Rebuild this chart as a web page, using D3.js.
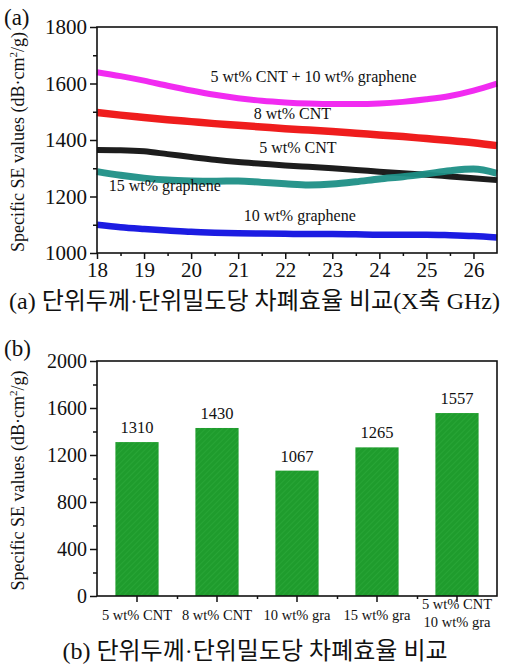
<!DOCTYPE html>
<html>
<head>
<meta charset="utf-8">
<script src="https://cdn.jsdelivr.net/npm/d3@7"></script>
<style>
  html, body { margin: 0; padding: 0; background: #fff; }
  svg { display: block; }
  text { font-family: "Liberation Serif", "Noto Sans CJK KR", serif; fill: #111; }
</style>
</head>
<body>
<svg id="chart" width="508" height="665"></svg>
<script>
// ---- Panel (a): specific SE vs frequency ----
const freq = [18, 18.5, 19, 19.5, 20, 20.5, 21, 21.5, 22, 22.5, 23, 23.5, 24, 24.5, 25, 25.5, 26, 26.5];
const seriesNames = ["5 wt% CNT + 10 wt% graphene", "8 wt% CNT", "5 wt% CNT", "15 wt% graphene", "10 wt% graphene"];
const seriesColors = ["#f020f0", "#ee1111", "#111111", "#1e8f86", "#1010e0"];
const hybridSE   = [1640, 1626, 1610, 1592, 1575, 1560, 1548, 1539, 1533, 1529, 1527, 1527, 1529, 1535, 1544, 1556, 1575, 1600];
const cnt8SE     = [1497, 1488, 1480, 1472, 1465, 1458, 1452, 1446, 1440, 1435, 1430, 1424, 1418, 1412, 1405, 1398, 1390, 1380];
const cnt5SE     = [1365, 1364, 1360, 1350, 1340, 1330, 1322, 1316, 1310, 1305, 1300, 1294, 1288, 1282, 1277, 1271, 1265, 1258];
const gra15SE    = [1288, 1275, 1265, 1258, 1255, 1254, 1255, 1250, 1245, 1241, 1244, 1252, 1262, 1270, 1280, 1291, 1297, 1282];
const gra10SE    = [1100, 1091, 1085, 1080, 1075, 1072, 1070, 1069, 1068, 1067, 1067, 1066, 1065, 1065, 1065, 1063, 1060, 1055];
const seriesValues = [hybridSE, cnt8SE, cnt5SE, gra15SE, gra10SE];
const seriesWidths = [6, 7.5, 6, 7, 6.5];
// label anchor points (frequency, value) for the in-plot annotations
const labelFreq = [22.6, 22.15, 22.27, 19.44, 22.31];
const labelVal  = [1604, 1474, 1354, 1220, 1113];
const xTicksA = [18, 19, 20, 21, 22, 23, 24, 25, 26];
const yTicksA = [1000, 1200, 1400, 1600, 1800];

// ---- Panel (b): average specific SE per sample ----
const samples = ["5 wt% CNT", "8 wt% CNT", "10 wt% gra", "15 wt% gra", "5 wt% CNT|10 wt% gra"];
const avgSE = [1310, 1430, 1067, 1265, 1557];
const yTicksB = [0, 400, 800, 1200, 1600, 2000];

const captionA = "(a) 단위두께·단위밀도당 차폐효율 비교(X축 GHz)";
const captionB = "(b) 단위두께·단위밀도당 차폐효율 비교";

const svg = d3.select("#chart");

// hatch pattern for bars
const defs = svg.append("defs");
const pat = defs.append("pattern").attr("id", "hatch").attr("patternUnits", "userSpaceOnUse")
  .attr("width", 4).attr("height", 4).attr("patternTransform", "rotate(45)");
pat.append("rect").attr("width", 4).attr("height", 4).attr("fill", "#1f9c2d");
pat.append("line").attr("x1", 0).attr("y1", 0).attr("x2", 0).attr("y2", 4)
  .attr("stroke", "#2aa838").attr("stroke-width", 1.5);

function frame(g, x0, x1, y0, y1) {
  g.append("rect").attr("x", x0).attr("y", y0).attr("width", x1 - x0).attr("height", y1 - y0)
    .attr("fill", "none").attr("stroke", "#111").attr("stroke-width", 1.6);
}

function yTitleText(g, cx, cy) {
  const t = g.append("text").attr("transform", `translate(${cx},${cy}) rotate(-90)`)
    .attr("text-anchor", "middle").attr("font-size", 18);
  t.append("tspan").text("Specific SE values (dB·cm");
  t.append("tspan").text("2").attr("font-size", 11).attr("dy", -7);
  t.append("tspan").text("/g)").attr("dy", 7);
}

// ---------------- Panel (a) ----------------
const A = { l: 97, r: 497, t: 27, b: 253 };
const xA = d3.scaleLinear().domain([18, 26.5]).range([A.l, A.r]);
const yA = d3.scaleLinear().domain([1000, 1800]).range([A.b, A.t]);
const gA = svg.append("g");

const lineGen = d3.line().x((d, i) => xA(freq[i])).y(d => yA(d)).curve(d3.curveMonotoneX);
seriesValues.forEach((vals, k) => {
  gA.append("path").attr("d", lineGen(vals)).attr("fill", "none")
    .attr("stroke", seriesColors[k]).attr("stroke-width", seriesWidths[k])
    .attr("stroke-linecap", "butt").attr("opacity", 0.95);
});

seriesNames.forEach((name, k) => {
  gA.append("text").attr("x", xA(labelFreq[k])).attr("y", yA(labelVal[k]))
    .attr("text-anchor", "middle").attr("font-size", 16).text(name);
});

// axes (a)
const axA_x = d3.axisBottom(xA).tickValues(xTicksA).tickSize(6).tickPadding(3).tickFormat(d3.format("d"));
const axA_y = d3.axisLeft(yA).tickValues(yTicksA).tickSize(7).tickPadding(3).tickFormat(d3.format("d"));
const gxA = gA.append("g").attr("transform", `translate(0,${A.b})`).call(axA_x);
const gyA = gA.append("g").attr("transform", `translate(${A.l},0)`).call(axA_y);
// minor ticks
gA.append("g").attr("transform", `translate(0,${A.b})`)
  .call(d3.axisBottom(xA).tickValues(d3.range(18.5, 26.5, 1)).tickSize(3).tickFormat(""));
gA.append("g").attr("transform", `translate(${A.l},0)`)
  .call(d3.axisLeft(yA).tickValues([1100, 1300, 1500, 1700]).tickSize(4).tickFormat(""));
[gxA, gyA].forEach(g => { g.selectAll("text").attr("font-size", 21).attr("font-family", "Liberation Serif").attr("fill", "#111"); });
gA.selectAll(".domain").remove();
gA.selectAll(".tick line").attr("stroke", "#111").attr("stroke-width", 1.5);
frame(gA, A.l, A.r, A.t, A.b);
yTitleText(gA, 24, (A.t + A.b) / 2 + 2);
gA.append("text").attr("x", 4).attr("y", 25).attr("font-size", 23).text("(a)");

svg.append("text").attr("x", 9).attr("y", 309)
  .attr("font-size", 24).attr("textLength", 491).attr("lengthAdjust", "spacingAndGlyphs").text(captionA);

// ---------------- Panel (b) ----------------
const B = { l: 97, r: 497, t: 361, b: 596 };
const xB = d3.scaleBand().domain(samples).range([B.l, B.r]).paddingInner(0.46).paddingOuter(0.23);
const yB = d3.scaleLinear().domain([0, 2000]).range([B.b, B.t]);
const gB = svg.append("g");

gB.selectAll("rect.bar").data(samples).join("rect").attr("class", "bar")
  .attr("x", d => xB(d)).attr("width", xB.bandwidth())
  .attr("y", (d, i) => yB(avgSE[i])).attr("height", (d, i) => B.b - yB(avgSE[i]))
  .attr("fill", "url(#hatch)");

gB.selectAll("text.val").data(samples).join("text").attr("class", "val")
  .attr("x", d => xB(d) + xB.bandwidth() / 2).attr("y", (d, i) => yB(avgSE[i]) - 9)
  .attr("text-anchor", "middle").attr("font-size", 16.5).text((d, i) => avgSE[i]);

gB.append("g").attr("transform", `translate(0,${B.b})`)
  .call(d3.axisBottom(xB).tickSize(6).tickFormat(""));
// minor ticks between categories
const step = xB.step();
gB.append("g").attr("transform", `translate(0,${B.b})`)
  .call(d3.axisBottom(d3.scaleLinear().domain([0, 1]).range([0, 1]))
    .tickValues(samples.slice(1).map(d => xB(d) + xB.bandwidth() / 2 - step / 2)).tickSize(3).tickFormat(""));
const gyB = gB.append("g").attr("transform", `translate(${B.l},0)`)
  .call(d3.axisLeft(yB).tickValues(yTicksB).tickSize(7).tickPadding(3).tickFormat(d3.format("d")));
gB.append("g").attr("transform", `translate(${B.l},0)`)
  .call(d3.axisLeft(yB).tickValues([200, 600, 1000, 1400, 1800]).tickSize(4).tickFormat(""));
gyB.selectAll("text").attr("font-size", 20).attr("font-family", "Liberation Serif").attr("fill", "#111");
gB.selectAll(".domain").remove();
gB.selectAll(".tick line").attr("stroke", "#111").attr("stroke-width", 1.5);
frame(gB, B.l, B.r, B.t, B.b);

// category labels (a "|" splits a label over two lines)
samples.forEach(s => {
  const parts = s.split("|");
  const cx = xB(s) + xB.bandwidth() / 2;
  parts.forEach((p, j) => {
    const y = parts.length === 1 ? 620 : 609 + j * 18;
    gB.append("text").attr("x", cx).attr("y", y).attr("text-anchor", "middle")
      .attr("font-size", 14.5).text(p);
  });
});

yTitleText(gB, 24, (B.t + B.b) / 2 + 2);
gB.append("text").attr("x", 4).attr("y", 356).attr("font-size", 23).text("(b)");

svg.append("text").attr("x", 255).attr("y", 659)
  .attr("text-anchor", "middle").attr("font-size", 24).text(captionB);
</script>
</body>
</html>
